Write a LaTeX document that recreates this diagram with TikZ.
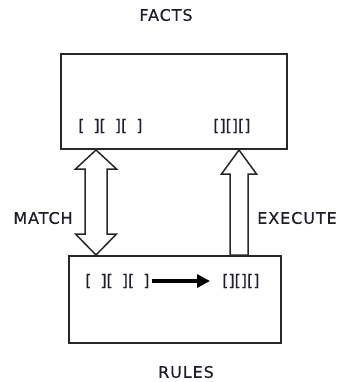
\documentclass[tikz,border=0pt]{standalone}
\usepackage{fontspec}
\setmainfont[FakeBold=0.5]{DejaVu Sans}
\newfontfamily\lblfont[LetterSpace=6,FakeBold=0.5]{DejaVu Sans}
\usetikzlibrary{arrows.meta,calc}
\definecolor{ink}{RGB}{30,30,45}
\definecolor{edge}{RGB}{40,40,40}
\newcommand{\gapbr}{[\kern9bp]}
\begin{document}
\begin{tikzpicture}[x=1bp,y=-1bp,
  lbl/.style={font=\lblfont\fontsize{16}{19}\selectfont,text=ink,inner sep=0pt},
  brk/.style={font=\fontsize{16}{19}\selectfont,text=ink,inner sep=0pt},
  memory/.style={draw=edge,line width=2bp,inner sep=0pt},
  blockarrow/.style={draw=edge,line width=1.5bp,fill=white,line join=miter},
  flow/.style={draw=black,line width=3.2bp,-{Triangle[length=13bp,width=13bp]}}]
\useasboundingbox (0,0) rectangle (337,382);

% the two memories
\node[memory,minimum width=226bp,minimum height=95bp] (facts) at (174,101.5) {};
\node[memory,minimum width=212bp,minimum height=87bp] (rules) at (175,299.5) {};

% captions
\node[lbl] (factsl) at (166,15) {FACTS};
\node[lbl] (rulesl) at (186,372) {RULES};
\node[lbl] (matchl) at (43,218) {MATCH};
\node[lbl] (execl)  at (297,218) {EXECUTE};

% patterns held in the facts memory
\node[brk,anchor=west] (fpat) at (78,126) {\gapbr\gapbr\gapbr};
\node[brk,anchor=west] (fres) at (213,126) {[][][]};

% rule: condition part leads to action part
\node[brk,anchor=west] (rpat) at (85,281) {\gapbr\gapbr\gapbr};
\node[brk,anchor=west] (rres) at (222,281) {[][][]};
\draw[flow] ($(rpat.east)+(2,0)$) -- ($(rres.west)+(-12,0)$);

% MATCH: two-headed block arrow between the memories
\coordinate (mt) at (facts.south -| 96,0);
\coordinate (mb) at (rules.north -| 96,0);
\draw[blockarrow]
  (mt) -- ++(20.5,19) -- ++(-9.5,0) -- ($(mb)+(11,-21)$) -- ++(9.5,0) -- (mb)
  -- ++(-20.5,-21) -- ++(9.5,0) -- ($(mt)+(-11,19)$) -- ++(-9.5,0) -- cycle;

% EXECUTE: one-headed block arrow from rules up to facts
\coordinate (et) at (facts.south -| 239,0);
\coordinate (eb) at (rules.north -| 239,0);
\draw[blockarrow]
  (et) -- ++(17.5,24) -- ++(-8.5,0) -- ($(eb)+(9,0)$) -- ($(eb)+(-9,0)$)
  -- ($(et)+(-9,24)$) -- ++(-8.5,0) -- cycle;
\end{tikzpicture}
\end{document}
